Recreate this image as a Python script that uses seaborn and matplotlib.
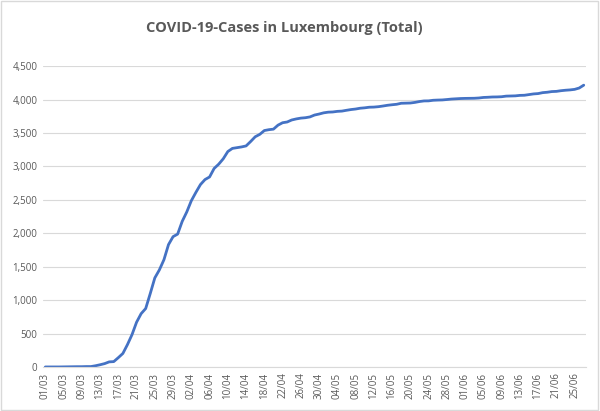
import pandas as pd
import matplotlib
matplotlib.use("Agg")
import matplotlib.pyplot as plt
import seaborn as sns
from matplotlib.patches import Rectangle
from matplotlib.ticker import FuncFormatter

# Daily cumulative cases, 01/03 .. 27/06
march = [1, 1, 1, 1, 2, 3, 4, 5, 5, 7, 7, 19, 34, 51, 77, 81, 140, 203, 335, 484,
         670, 798, 875, 1099, 1333, 1453, 1605, 1831, 1950, 1988, 2178]
april = [2319, 2487, 2612, 2729, 2804, 2843, 2970, 3034, 3115, 3223, 3270, 3281,
         3292, 3307, 3373, 3444, 3480, 3537, 3550, 3558, 3618, 3654, 3665, 3695,
         3711, 3723, 3729, 3741, 3769, 3784]
may = [3802, 3812, 3815, 3824, 3828, 3840, 3851, 3859, 3871, 3877, 3886, 3888,
       3894, 3904, 3915, 3923, 3930, 3945, 3947, 3949, 3958, 3971, 3980, 3981,
       3990, 3993, 3995, 4001, 4008, 4012, 4016]
june = [4018, 4019, 4020, 4024, 4032, 4035, 4039, 4040, 4043, 4052, 4054, 4056,
        4063, 4065, 4075, 4085, 4090, 4104, 4110, 4120, 4123, 4133, 4140, 4145,
        4153, 4173, 4216]

months = [("03", march), ("04", april), ("05", may), ("06", june)]
dates = []
cases = []
for mon, vals in months:
    for d, v in enumerate(vals, 1):
        dates.append(f"{d:02d}/{mon}")
        cases.append(v)

df = pd.DataFrame({"pos": range(len(cases)), "date": dates, "cases": cases})

sns.set_style("white")
plt.rcParams["font.family"] = ["Open Sans", "DejaVu Sans"]

fig = plt.figure(figsize=(6, 4.11), dpi=100)
ax = fig.add_axes([0.0717, 0.107, 0.905, 0.732])

sns.lineplot(data=df, x="pos", y="cases", ax=ax, color="#4472C4", linewidth=2.0)

ax.set_xlim(-0.5, len(cases) - 0.5)
ax.set_ylim(0, 4500)
ax.set_yticks(range(0, 4501, 500))
ax.yaxis.set_major_formatter(FuncFormatter(lambda v, p: f"{int(v):,}"))
tick_pos = list(range(0, len(cases), 4))
ax.set_xticks(tick_pos)
ax.set_xticklabels([dates[i] for i in tick_pos], rotation=90)
ax.tick_params(axis="both", length=0, labelsize=7, colors="#595959", pad=4)
ax.set_xlabel("")
ax.set_ylabel("")

ax.grid(axis="y", color="#D9D9D9", linewidth=0.8)
ax.set_axisbelow(True)
for side in ["top", "right", "left"]:
    ax.spines[side].set_visible(False)
ax.spines["bottom"].set_color("#D9D9D9")
ax.spines["bottom"].set_linewidth(0.8)

fig.text(0.474, 0.932, "COVID-19-Cases in Luxembourg (Total)", ha="center",
         va="center", fontsize=10.5, fontweight="bold", color="#595959")

fig.patches.append(Rectangle((0.002, 0.003), 0.995, 0.994, transform=fig.transFigure,
                             fill=False, edgecolor="#D9D9D9", linewidth=1.0))

fig.savefig("out.png", dpi=100)
plt.close(fig)
